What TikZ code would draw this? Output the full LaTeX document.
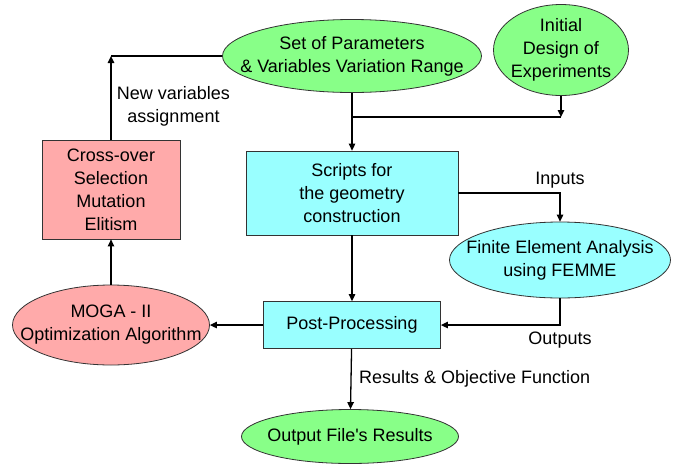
\documentclass[tikz,border=0pt]{standalone}
\usepackage{fontspec}
\setmainfont{Liberation Sans}
\usetikzlibrary{arrows.meta,positioning,shapes.geometric,calc}
\definecolor{inputgreen}{HTML}{88FF88}
\definecolor{solvercyan}{HTML}{99FFFF}
\definecolor{gared}{HTML}{FFAAAA}
\tikzset{
 txt/.style={font=\fontsize{18}{23}\selectfont,align=center},
 box/.style={txt,draw=black!80,line width=0.8pt,inner sep=0pt},
 oval/.style={txt,ellipse,draw=black!80,line width=0.8pt,inner sep=-30pt},
 arrow/.style={-{Triangle[length=7pt,width=6.5pt]},line width=1.3pt},
 link/.style={line width=1.3pt}
}

\begin{document}
\begin{tikzpicture}[x=1pt,y=-1pt]
\useasboundingbox (0,0) rectangle (686,464);
% inputs
\node[oval,fill=inputgreen,minimum width=259pt,minimum height=73pt] (params) at (352,56)
  {Set of Parameters\\\& Variables Variation Range};
\node[oval,fill=inputgreen,minimum width=135pt,minimum height=91pt] (doe) at (561,50)
  {Initial\\Design of\\Experiments};
% evaluation chain
\node[box,fill=solvercyan,minimum width=212pt,minimum height=84pt] (scripts) at (352,193)
  {Scripts for\\the geometry\\construction};
\node[oval,fill=solvercyan,minimum width=221pt,minimum height=76pt] (fea) at (560,260)
  {Finite Element Analysis\\using FEMME};
\node[box,fill=solvercyan,minimum width=177pt,minimum height=47pt] (post) at (352,325)
  {Post-Processing};
\node[oval,fill=inputgreen,minimum width=217pt,minimum height=54pt] (output) at (350,436.5)
  {Output File\textquotesingle s Results};
% optimiser loop
\node[oval,fill=gared,minimum width=197pt,minimum height=80pt] (moga) at (111,325)
  {MOGA - II\\Optimization Algorithm};
\node[box,fill=gared,minimum width=138pt,minimum height=99pt] (gaops) at (111,189.5)
  {Cross-over\\Selection\\Mutation\\Elitism};

\coordinate (doejoin) at (doe.south |- 0,117);
\coordinate (feedback) at (gaops.north |- params.west);

\draw[arrow] (params.south) -- (scripts.north);
\draw[arrow] (doe.south) -- (doejoin);
\draw[link] (doejoin) -- (doejoin -| params.south);
\draw[arrow] (scripts.east) -| node[txt,above=1pt] {Inputs} (fea.north);
\draw[arrow] (fea.south) |- node[txt,below=3pt] {Outputs} (post.east);
\draw[arrow] (scripts) -- (post);
\draw[arrow] (post) -- node[txt,right=4pt] {Results \& Objective Function} (output);
\draw[arrow] (post) -- (moga);
\draw[arrow] (moga) -- (gaops);
\draw[arrow] (gaops.north) -- node[txt,right=2pt,yshift=-9pt] {New variables\\assignment} (feedback);
\draw[link] (params.west) -- (feedback);
\end{tikzpicture}
\end{document}
